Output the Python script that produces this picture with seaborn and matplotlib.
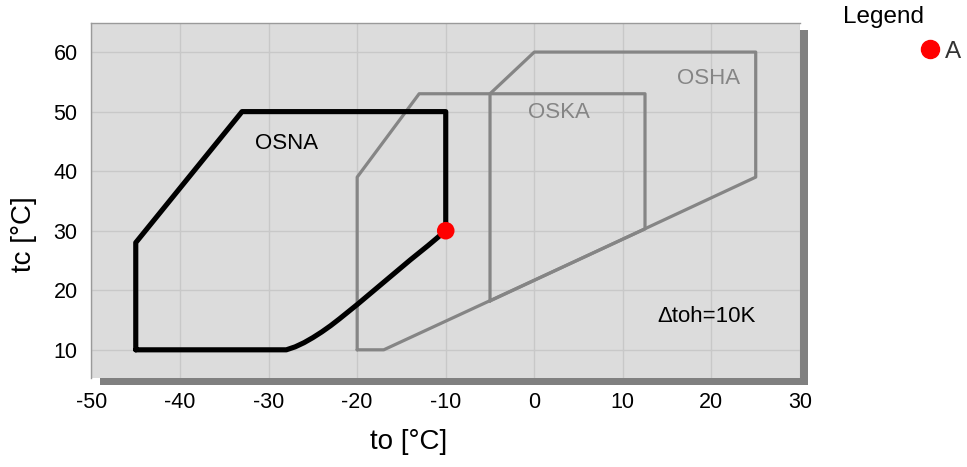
import matplotlib
matplotlib.use("Agg")
import matplotlib.pyplot as plt
import seaborn as sns
import pandas as pd
from matplotlib.lines import Line2D

# Envelope outlines (to, tc)
osna_to = [-45, -45, -33, -10, -10, -11, -12, -13, -14, -15, -16, -17, -18,
           -19, -20, -21, -22, -23, -24, -25, -26, -27, -28, -45]
osna_tc = [10, 28, 50, 50, 30, 28.75, 27.5, 26.3, 25.1, 23.85, 22.6, 21.35, 20.1,
           18.85, 17.6, 16.4, 15.2, 14.05, 13.0, 12.05, 11.2, 10.5, 10, 10]

oska_to = [-20, -17, 12.5, 12.5, -13, -20, -20]
oska_tc = [10, 10, 30.3, 53, 53, 39, 10]

osha_to = [-5, 25, 25, 0, -5, -5]
osha_tc = [18.2, 39, 60, 60, 53, 18.2]

point_to = [-10]
point_tc = [30]
point_label = ["A"]

x_ticks = [-50, -40, -30, -20, -10, 0, 10, 20, 30]
y_ticks = [10, 20, 30, 40, 50, 60]

sns.set_style("whitegrid")
plt.rcParams['font.family'] = ['Liberation Sans', 'DejaVu Sans']
plt.rcParams['axes.unicode_minus'] = False

fig = plt.figure(figsize=(9.67, 4.67), dpi=100)
pos = [0.0946, 0.191, 0.7327, 0.760]

# drop shadow behind the plot area (a plain grey axes underneath)
shadow = fig.add_axes([pos[0] + 0.0083, pos[1] - 0.0155, pos[2], pos[3]])
shadow.set_facecolor("#808080")
shadow.set_xticks([])
shadow.set_yticks([])
shadow.grid(False)
for s in shadow.spines.values():
    s.set_visible(False)

ax = fig.add_axes(pos)
ax.set_facecolor("#dcdcdc")
ax.grid(True, color="#c8c8c8", linewidth=1)

def outline(xs, ys, color, lw):
    d = pd.DataFrame({"to": xs, "tc": ys})
    sns.lineplot(data=d, x="to", y="tc", sort=False, estimator=None,
                 color=color, linewidth=lw, ax=ax)

outline(oska_to, oska_tc, "#858585", 2.3)
outline(osha_to, osha_tc, "#858585", 2.3)
outline(osna_to, osna_tc, "black", 3.7)

pts = pd.DataFrame({"to": point_to, "tc": point_tc, "name": point_label})
sns.scatterplot(data=pts, x="to", y="tc", color="red", s=160,
                edgecolor="none", zorder=5, ax=ax, legend=False)

ax.text(-28.0, 44.7, "OSNA", fontsize=16, color="black", ha="center", va="center")
ax.text(2.8, 49.8, "OSKA", fontsize=16, color="#858585", ha="center", va="center")
ax.text(19.7, 55.6, "OSHA", fontsize=16, color="#858585", ha="center", va="center")
ax.text(19.5, 15.6, "\u0394toh=10K", fontsize=16, color="black", ha="center", va="center")

ax.set_xlim(-50, 30)
ax.set_ylim(5.3, 64.9)
ax.set_xticks(x_ticks)
ax.set_yticks(y_ticks)
ax.tick_params(axis="both", labelsize=15.5, length=8, color="#c8c8c8",
               direction="out", pad=2, labelcolor="black")
ax.set_xlabel("to [°C]", fontsize=20, color="black")
ax.set_ylabel("tc [°C]", fontsize=20, color="black")
ax.xaxis.set_label_coords(0.448, -0.145)
ax.yaxis.set_label_coords(-0.077, 0.405)

for side in ["left", "top"]:
    ax.spines[side].set_color("#9a9a9a")
    ax.spines[side].set_linewidth(1)
for side in ["right", "bottom"]:
    ax.spines[side].set_visible(False)

# legend outside on the right
fig.text(0.8715, 0.963, "Legend", fontsize=17.5, color="black", ha="left", va="center")
handle = Line2D([], [], marker="o", color="red", linestyle="none", markersize=13)
fig.legend([handle], point_label, loc="center left",
           bbox_to_anchor=(0.937, 0.889), frameon=False, fontsize=17.5,
           labelcolor="#333333", handletextpad=0.1, borderpad=0, handlelength=1.0)

fig.savefig("out.png", dpi=100)
